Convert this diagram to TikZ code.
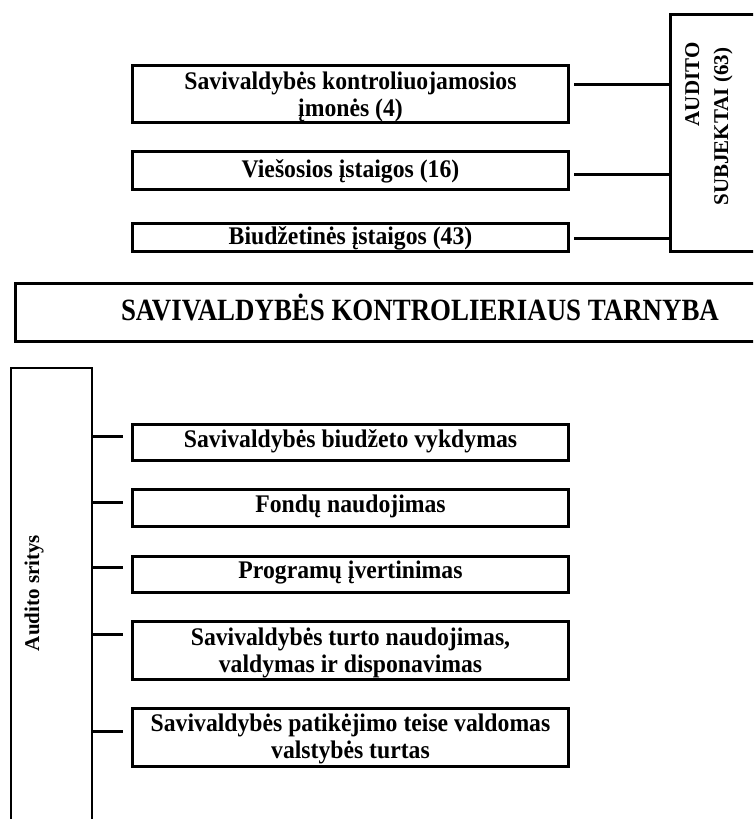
\documentclass[tikz,border=0pt]{standalone}
\usepackage{fontspec}
\setmainfont{Liberation Serif}
\newcommand\vtxt[2][0pt]{\raisebox{-#1}[\height][\depth]{\scalebox{1}[1.07]{\begin{tabular}{@{}c@{}}#2\end{tabular}}}}
\begin{document}
\begin{tikzpicture}[x=1pt,y=-1pt,
  box/.style={draw, line width=3pt, rectangle, inner sep=0pt, align=center, anchor=north west,
    font=\bfseries\fontsize{23.7}{25.2}\selectfont},
  sidebox/.style={draw, line width=2pt, rectangle, inner sep=0pt, anchor=north west},
  conn/.style={line width=3pt},
  lbl/.style={inner sep=0pt, font=\bfseries\fontsize{21}{29}\selectfont}]
\useasboundingbox (0,0) rectangle (753,819);
\clip (0,0) rectangle (753,819);

% top part
\node[sidebox, line width=3pt, minimum width=120pt, minimum height=237pt] (asub) at (669,13) {};
\node[lbl, rotate=90, align=right] (asubt) at (709,124) {AUDITO\\SUBJEKTAI (63)\hspace*{5pt}};

\node[box, minimum width=436pt, minimum height=57pt] (s1) at (131,64) {\vtxt[3.5pt]{Savivaldybės kontroliuojamosios\\įmonės (4)}};
\node[box, minimum width=436pt, minimum height=38pt] (s2) at (131,150) {\vtxt[2pt]{Viešosios įstaigos (16)}};
\node[box, minimum width=436pt, minimum height=28pt] (s3) at (131,222) {\vtxt[2pt]{Biudžetinės įstaigos (43)}};

\path ([yshift=10pt,xshift=4pt]s1.east) coordinate (t1);
\path ([yshift=-4pt,xshift=4pt]s2.east) coordinate (t2);
\path ([yshift=-1pt,xshift=4pt]s3.east) coordinate (t3);
\draw[conn] (t1) -- (t1 -| asub.west);
\draw[conn] (t2) -- (t2 -| asub.west);
\draw[conn] (t3) -- (t3 -| asub.west);

% middle
\node[box, minimum width=760pt, minimum height=58pt] (kt) at (14,282) {};
\node[lbl, font=\bfseries\fontsize{26.9}{30}\selectfont] (ktt) at (420,307) {\scalebox{1}[1.15]{SAVIVALDYBĖS KONTROLIERIAUS TARNYBA}};

% bottom part
\node[sidebox, minimum width=81pt, minimum height=480pt] (as) at (10,367) {};
\node[lbl, rotate=90] (ast) at (34,593) {Audito sritys};

\node[box, minimum width=436pt, minimum height=36pt] (b1) at (131,423) {\vtxt{Savivaldybės biudžeto vykdymas}};
\node[box, minimum width=436pt, minimum height=37pt] (b2) at (131,488) {\vtxt[-1pt]{Fondų naudojimas}};
\node[box, minimum width=436pt, minimum height=36pt] (b3) at (131,555) {\vtxt[-1pt]{Programų įvertinimas}};
\node[box, minimum width=436pt, minimum height=58pt] (b4) at (131,620) {\vtxt[3pt]{Savivaldybės turto naudojimas,\\valdymas ir disponavimas}};
\node[box, minimum width=436pt, minimum height=58pt] (b5) at (131,707) {\vtxt[2pt]{Savivaldybės patikėjimo teise valdomas\\valstybės turtas}};

\path ([yshift=6pt,xshift=-8pt]b1.west) coordinate (e1);
\path ([yshift=6pt,xshift=-8pt]b2.west) coordinate (e2);
\path ([yshift=7pt,xshift=-8pt]b3.west) coordinate (e3);
\path ([yshift=16pt,xshift=-8pt]b4.west) coordinate (e4);
\path ([yshift=6pt,xshift=-8pt]b5.west) coordinate (e5);
\draw[conn] (e1 -| as.east) -- (e1);
\draw[conn] (e2 -| as.east) -- (e2);
\draw[conn] (e3 -| as.east) -- (e3);
\draw[conn] (e4 -| as.east) -- (e4);
\draw[conn] (e5 -| as.east) -- (e5);
\end{tikzpicture}
\end{document}
